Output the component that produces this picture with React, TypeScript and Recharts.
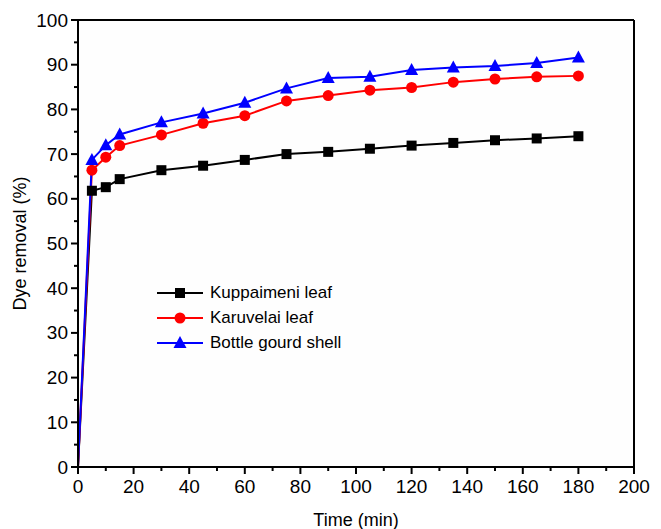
import React from "react";
import { CartesianGrid, Line, LineChart, ReferenceLine, XAxis, YAxis } from "recharts";

const times = [0, 5, 10, 15, 30, 45, 60, 75, 90, 105, 120, 135, 150, 165, 180];
const kuppaimeni = [0, 61.8, 62.6, 64.4, 66.4, 67.4, 68.7, 70.0, 70.5, 71.2, 71.9, 72.5, 73.1, 73.5, 74.0];
const karuvelai = [0, 66.4, 69.3, 71.9, 74.3, 76.9, 78.6, 81.9, 83.1, 84.3, 84.9, 86.1, 86.8, 87.3, 87.5];
const bottleGourd = [0, 68.7, 72.0, 74.4, 77.1, 79.1, 81.5, 84.7, 87.0, 87.3, 88.8, 89.4, 89.7, 90.4, 91.6];

const xTicks = [0, 10, 20, 30, 40, 50, 60, 70, 80, 90, 100, 110, 120, 130, 140, 150, 160, 170, 180, 190, 200];
const yTicks = [0, 5, 10, 15, 20, 25, 30, 35, 40, 45, 50, 55, 60, 65, 70, 75, 80, 85, 90, 95, 100];

const series = [
  { key: "kup", name: "Kuppaimeni leaf", color: "#000000", shape: "square" },
  { key: "kar", name: "Karuvelai leaf", color: "#ff0000", shape: "circle" },
  { key: "bot", name: "Bottle gourd shell", color: "#0000ff", shape: "triangle" },
];

const data = times.map((t, i) => ({
  t,
  kup: kuppaimeni[i],
  kar: karuvelai[i],
  bot: bottleGourd[i],
}));

const FONT = "'Liberation Sans', Arial, sans-serif";

function Marker({ shape, color, cx, cy }: { shape: string; color: string; cx: number; cy: number }) {
  if (shape === "square") return <rect x={cx - 5} y={cy - 5} width={10} height={10} fill={color} />;
  if (shape === "circle") return <circle cx={cx} cy={cy} r={5.5} fill={color} />;
  return <polygon points={`${cx},${cy - 7} ${cx + 6.5},${cy + 5} ${cx - 6.5},${cy + 5}`} fill={color} />;
}

const makeDot = (shape: string, color: string) => (props: any) => {
  const { cx, cy, index } = props;
  if (index === 0 || cx == null || cy == null) return <g key={`d-${shape}-${index}`} />;
  return (
    <g key={`d-${shape}-${index}`}>
      <Marker shape={shape} color={color} cx={cx} cy={cy} />
    </g>
  );
};

const XTick = (props: any) => {
  const { x, y, payload } = props;
  const major = payload.value % 20 === 0;
  return (
    <g>
      <line x1={x} x2={x} y1={y - 8} y2={y - 8 + (major ? 7 : 4)} stroke="#000" strokeWidth={2} />
      {major && (
        <text x={x} y={y + 18} textAnchor="middle" fontSize={19} fontFamily={FONT} fill="#000">
          {payload.value}
        </text>
      )}
    </g>
  );
};

const YTick = (props: any) => {
  const { x, y, payload } = props;
  const major = payload.value % 10 === 0;
  return (
    <g>
      <line x1={x + 8} x2={x + 8 - (major ? 7 : 4)} y1={y} y2={y} stroke="#000" strokeWidth={2} />
      {major && (
        <text x={x - 2} y={y + 6.5} textAnchor="end" fontSize={19} fontFamily={FONT} fill="#000">
          {payload.value}
        </text>
      )}
    </g>
  );
};

const LegendBox = () => (
  <div style={{ position: "absolute", left: 155, top: 280, fontFamily: FONT, fontSize: 17, color: "#000" }}>
    {series.map((s) => (
      <div key={s.key} style={{ display: "flex", alignItems: "center", height: 25 }}>
        <svg width={52} height={16}>
          <line x1={2} x2={48} y1={8} y2={8} stroke={s.color} strokeWidth={2} />
          <Marker shape={s.shape} color={s.color} cx={25} cy={8} />
        </svg>
        <span style={{ marginLeft: 3 }}>{s.name}</span>
      </div>
    ))}
  </div>
);

export default function App() {
  return (
    <div style={{ position: "absolute", left: 0, top: 0, width: 661, height: 529, background: "#fff" }}>
      <LineChart width={661} height={529} data={data} margin={{ top: 20, right: 27, left: 0, bottom: 0 }}>
        <CartesianGrid stroke="none" fill="#fefefe" />
        <XAxis
          dataKey="t"
          type="number"
          domain={[0, 200]}
          ticks={xTicks}
          interval={0}
          height={62}
          stroke="#000"
          strokeWidth={2}
          tickLine={false}
          tick={<XTick />}
          label={{ value: "Time (min)", position: "insideBottom", offset: 3, fontSize: 18, fontFamily: FONT, fill: "#000" }}
        />
        <YAxis
          type="number"
          domain={[0, 100]}
          ticks={yTicks}
          interval={0}
          width={78}
          stroke="#000"
          strokeWidth={2}
          tickLine={false}
          tick={<YTick />}
          label={{ value: "Dye removal (%)", angle: -90, position: "insideLeft", offset: 20, fontSize: 18, fontFamily: FONT, fill: "#000", style: { textAnchor: "middle" } }}
        />
        <ReferenceLine x={200} stroke="#000" strokeWidth={2} />
        <ReferenceLine y={100} stroke="#000" strokeWidth={2} />
        {series.map((s) => (
          <Line
            key={s.key}
            type="linear"
            dataKey={s.key}
            name={s.name}
            stroke={s.color}
            strokeWidth={2}
            dot={makeDot(s.shape, s.color)}
            activeDot={false}
            isAnimationActive={false}
          />
        ))}
      </LineChart>
      <LegendBox />
    </div>
  );
}
